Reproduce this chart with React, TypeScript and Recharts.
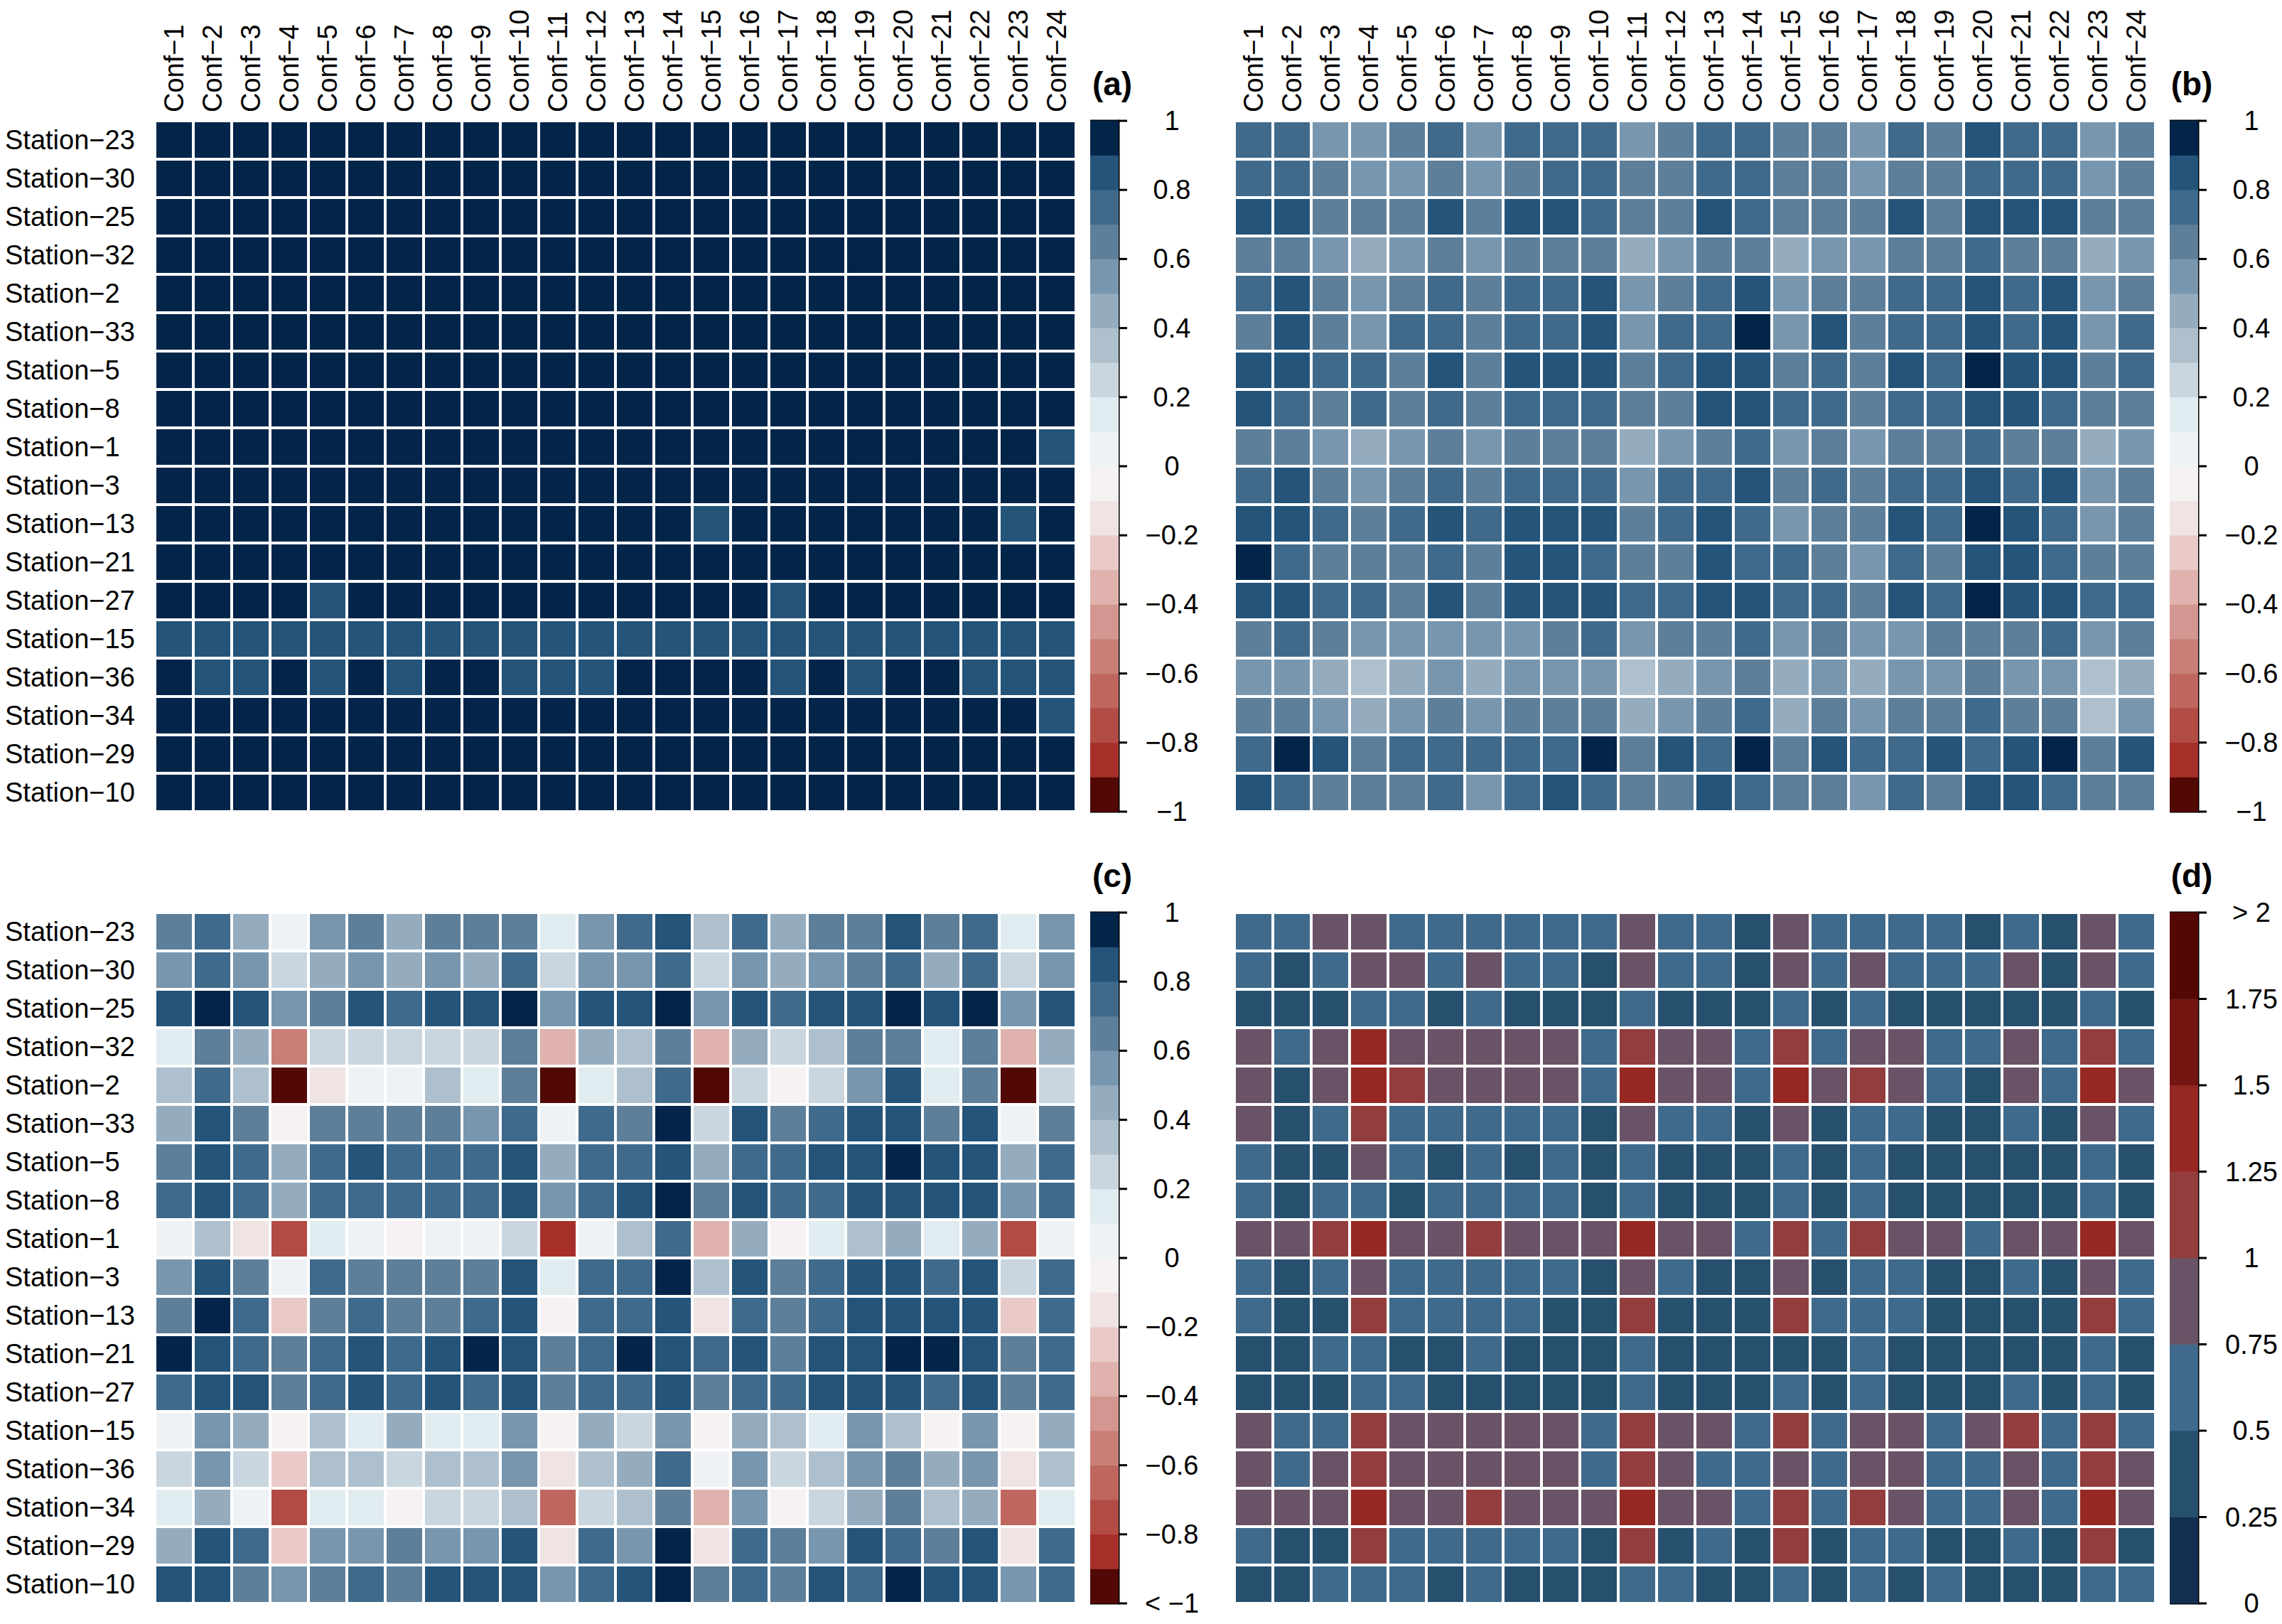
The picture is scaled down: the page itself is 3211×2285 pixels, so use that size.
import React from "react";
import { ScatterChart, Scatter, XAxis, YAxis, ReferenceArea } from "recharts";

const stations = [
  "Station−23", "Station−30", "Station−25", "Station−32", "Station−2", "Station−33",
  "Station−5", "Station−8", "Station−1", "Station−3", "Station−13", "Station−21",
  "Station−27", "Station−15", "Station−36", "Station−34", "Station−29", "Station−10",
];
const confs = [
  "Conf−1", "Conf−2", "Conf−3", "Conf−4", "Conf−5", "Conf−6", "Conf−7", "Conf−8",
  "Conf−9", "Conf−10", "Conf−11", "Conf−12", "Conf−13", "Conf−14", "Conf−15", "Conf−16",
  "Conf−17", "Conf−18", "Conf−19", "Conf−20", "Conf−21", "Conf−22", "Conf−23", "Conf−24",
];

// (a) correlation
const corrA = [
  [0.95, 0.95, 0.95, 0.95, 0.95, 0.95, 0.95, 0.95, 0.95, 0.95, 0.95, 0.95, 0.95, 0.95, 0.95, 0.95, 0.95, 0.95, 0.95, 0.95, 0.95, 0.95, 0.95, 0.95],
  [0.95, 0.95, 0.95, 0.95, 0.95, 0.95, 0.95, 0.95, 0.95, 0.95, 0.95, 0.95, 0.95, 0.95, 0.95, 0.95, 0.95, 0.95, 0.95, 0.95, 0.95, 0.95, 0.95, 0.95],
  [0.95, 0.95, 0.95, 0.95, 0.95, 0.95, 0.95, 0.95, 0.95, 0.95, 0.95, 0.95, 0.95, 0.95, 0.95, 0.95, 0.95, 0.95, 0.95, 0.95, 0.95, 0.95, 0.95, 0.95],
  [0.95, 0.95, 0.95, 0.95, 0.95, 0.95, 0.95, 0.95, 0.95, 0.95, 0.95, 0.95, 0.95, 0.95, 0.95, 0.95, 0.95, 0.95, 0.95, 0.95, 0.95, 0.95, 0.95, 0.95],
  [0.95, 0.95, 0.95, 0.95, 0.95, 0.95, 0.95, 0.95, 0.95, 0.95, 0.95, 0.95, 0.95, 0.95, 0.95, 0.95, 0.95, 0.95, 0.95, 0.95, 0.95, 0.95, 0.95, 0.95],
  [0.95, 0.95, 0.95, 0.95, 0.95, 0.95, 0.95, 0.95, 0.95, 0.95, 0.95, 0.95, 0.95, 0.95, 0.95, 0.95, 0.95, 0.95, 0.95, 0.95, 0.95, 0.95, 0.95, 0.95],
  [0.95, 0.95, 0.95, 0.95, 0.95, 0.95, 0.95, 0.95, 0.95, 0.95, 0.95, 0.95, 0.95, 0.95, 0.95, 0.95, 0.95, 0.95, 0.95, 0.95, 0.95, 0.95, 0.95, 0.95],
  [0.95, 0.95, 0.95, 0.95, 0.95, 0.95, 0.95, 0.95, 0.95, 0.95, 0.95, 0.95, 0.95, 0.95, 0.95, 0.95, 0.95, 0.95, 0.95, 0.95, 0.95, 0.95, 0.95, 0.95],
  [0.95, 0.95, 0.95, 0.95, 0.95, 0.95, 0.95, 0.95, 0.95, 0.95, 0.95, 0.95, 0.95, 0.95, 0.95, 0.95, 0.95, 0.95, 0.95, 0.95, 0.95, 0.95, 0.95, 0.85],
  [0.95, 0.95, 0.95, 0.95, 0.95, 0.95, 0.95, 0.95, 0.95, 0.95, 0.95, 0.95, 0.95, 0.95, 0.95, 0.95, 0.95, 0.95, 0.95, 0.95, 0.95, 0.95, 0.95, 0.95],
  [0.95, 0.95, 0.95, 0.95, 0.95, 0.95, 0.95, 0.95, 0.95, 0.95, 0.95, 0.95, 0.95, 0.95, 0.85, 0.95, 0.95, 0.95, 0.95, 0.95, 0.95, 0.95, 0.85, 0.95],
  [0.95, 0.95, 0.95, 0.95, 0.95, 0.95, 0.95, 0.95, 0.95, 0.95, 0.95, 0.95, 0.95, 0.95, 0.95, 0.95, 0.95, 0.95, 0.95, 0.95, 0.95, 0.95, 0.95, 0.95],
  [0.95, 0.95, 0.95, 0.95, 0.85, 0.95, 0.95, 0.95, 0.95, 0.95, 0.95, 0.95, 0.95, 0.95, 0.95, 0.95, 0.85, 0.95, 0.95, 0.95, 0.95, 0.95, 0.95, 0.95],
  [0.85, 0.85, 0.85, 0.85, 0.85, 0.85, 0.85, 0.85, 0.85, 0.85, 0.85, 0.85, 0.85, 0.85, 0.85, 0.85, 0.85, 0.85, 0.85, 0.85, 0.85, 0.85, 0.85, 0.85],
  [0.95, 0.85, 0.85, 0.95, 0.85, 0.95, 0.85, 0.95, 0.95, 0.85, 0.85, 0.85, 0.95, 0.95, 0.95, 0.95, 0.85, 0.95, 0.85, 0.95, 0.95, 0.85, 0.85, 0.85],
  [0.95, 0.95, 0.95, 0.95, 0.95, 0.95, 0.95, 0.95, 0.95, 0.95, 0.95, 0.95, 0.95, 0.95, 0.95, 0.95, 0.95, 0.95, 0.95, 0.95, 0.95, 0.95, 0.95, 0.85],
  [0.95, 0.95, 0.95, 0.95, 0.95, 0.95, 0.95, 0.95, 0.95, 0.95, 0.95, 0.95, 0.95, 0.95, 0.95, 0.95, 0.95, 0.95, 0.95, 0.95, 0.95, 0.95, 0.95, 0.95],
  [0.95, 0.95, 0.95, 0.95, 0.95, 0.95, 0.95, 0.95, 0.95, 0.95, 0.95, 0.95, 0.95, 0.95, 0.95, 0.95, 0.95, 0.95, 0.95, 0.95, 0.95, 0.95, 0.95, 0.95],
];

// (b) correlation
const corrB = [
  [0.75, 0.75, 0.55, 0.55, 0.65, 0.75, 0.55, 0.75, 0.75, 0.75, 0.55, 0.65, 0.75, 0.75, 0.65, 0.65, 0.55, 0.75, 0.65, 0.85, 0.75, 0.75, 0.55, 0.65],
  [0.75, 0.75, 0.65, 0.55, 0.55, 0.65, 0.55, 0.65, 0.75, 0.75, 0.65, 0.65, 0.75, 0.75, 0.65, 0.65, 0.55, 0.65, 0.65, 0.75, 0.75, 0.75, 0.55, 0.65],
  [0.85, 0.85, 0.65, 0.65, 0.65, 0.85, 0.65, 0.85, 0.85, 0.75, 0.65, 0.65, 0.85, 0.75, 0.65, 0.65, 0.65, 0.85, 0.65, 0.85, 0.85, 0.85, 0.65, 0.65],
  [0.65, 0.65, 0.55, 0.45, 0.55, 0.65, 0.55, 0.65, 0.65, 0.65, 0.45, 0.55, 0.65, 0.65, 0.45, 0.55, 0.55, 0.65, 0.65, 0.75, 0.65, 0.65, 0.45, 0.55],
  [0.75, 0.85, 0.65, 0.55, 0.65, 0.75, 0.65, 0.75, 0.75, 0.85, 0.55, 0.65, 0.75, 0.85, 0.55, 0.65, 0.65, 0.75, 0.75, 0.85, 0.75, 0.85, 0.55, 0.65],
  [0.65, 0.85, 0.65, 0.55, 0.75, 0.75, 0.65, 0.75, 0.75, 0.85, 0.55, 0.75, 0.75, 0.95, 0.55, 0.85, 0.65, 0.75, 0.75, 0.85, 0.75, 0.85, 0.55, 0.75],
  [0.85, 0.85, 0.75, 0.75, 0.65, 0.85, 0.65, 0.85, 0.85, 0.85, 0.65, 0.75, 0.85, 0.85, 0.65, 0.75, 0.65, 0.85, 0.75, 0.95, 0.85, 0.85, 0.65, 0.75],
  [0.85, 0.75, 0.65, 0.75, 0.65, 0.75, 0.65, 0.75, 0.75, 0.75, 0.65, 0.65, 0.85, 0.85, 0.75, 0.75, 0.65, 0.75, 0.75, 0.85, 0.85, 0.75, 0.65, 0.65],
  [0.65, 0.65, 0.55, 0.45, 0.55, 0.65, 0.55, 0.65, 0.65, 0.65, 0.45, 0.55, 0.65, 0.75, 0.55, 0.65, 0.55, 0.65, 0.65, 0.75, 0.65, 0.65, 0.45, 0.55],
  [0.75, 0.85, 0.65, 0.55, 0.65, 0.75, 0.65, 0.75, 0.75, 0.75, 0.55, 0.75, 0.75, 0.85, 0.65, 0.75, 0.65, 0.75, 0.75, 0.85, 0.75, 0.85, 0.55, 0.65],
  [0.85, 0.85, 0.75, 0.65, 0.75, 0.85, 0.75, 0.85, 0.85, 0.85, 0.65, 0.75, 0.85, 0.75, 0.55, 0.65, 0.65, 0.85, 0.75, 0.95, 0.85, 0.75, 0.55, 0.65],
  [0.95, 0.75, 0.65, 0.65, 0.65, 0.75, 0.65, 0.85, 0.85, 0.75, 0.65, 0.65, 0.85, 0.75, 0.75, 0.65, 0.55, 0.75, 0.65, 0.85, 0.85, 0.75, 0.65, 0.65],
  [0.85, 0.85, 0.75, 0.75, 0.65, 0.85, 0.65, 0.85, 0.85, 0.85, 0.75, 0.75, 0.85, 0.85, 0.75, 0.75, 0.65, 0.85, 0.75, 0.95, 0.85, 0.85, 0.75, 0.75],
  [0.65, 0.75, 0.65, 0.55, 0.55, 0.55, 0.55, 0.55, 0.65, 0.75, 0.55, 0.65, 0.65, 0.75, 0.55, 0.65, 0.55, 0.55, 0.65, 0.65, 0.65, 0.75, 0.55, 0.65],
  [0.55, 0.55, 0.45, 0.35, 0.45, 0.55, 0.45, 0.55, 0.55, 0.55, 0.35, 0.45, 0.55, 0.65, 0.45, 0.55, 0.45, 0.55, 0.55, 0.65, 0.55, 0.55, 0.35, 0.45],
  [0.65, 0.65, 0.55, 0.45, 0.55, 0.65, 0.55, 0.65, 0.65, 0.65, 0.45, 0.55, 0.65, 0.75, 0.45, 0.65, 0.55, 0.65, 0.65, 0.75, 0.65, 0.65, 0.35, 0.55],
  [0.75, 0.95, 0.85, 0.65, 0.75, 0.75, 0.75, 0.75, 0.75, 0.95, 0.65, 0.85, 0.75, 0.95, 0.65, 0.85, 0.75, 0.75, 0.85, 0.75, 0.85, 0.95, 0.65, 0.85],
  [0.85, 0.75, 0.65, 0.65, 0.65, 0.75, 0.55, 0.75, 0.85, 0.75, 0.65, 0.65, 0.85, 0.75, 0.65, 0.65, 0.55, 0.75, 0.65, 0.85, 0.85, 0.75, 0.65, 0.65],
];

// (c) correlation
const corrC = [
  [0.65, 0.75, 0.45, 0.05, 0.55, 0.65, 0.45, 0.65, 0.65, 0.65, 0.15, 0.55, 0.75, 0.85, 0.35, 0.75, 0.45, 0.65, 0.65, 0.85, 0.65, 0.75, 0.15, 0.55],
  [0.55, 0.75, 0.55, 0.25, 0.45, 0.55, 0.45, 0.55, 0.45, 0.75, 0.25, 0.55, 0.55, 0.75, 0.25, 0.55, 0.45, 0.55, 0.65, 0.75, 0.45, 0.75, 0.25, 0.55],
  [0.85, 0.95, 0.85, 0.55, 0.65, 0.85, 0.75, 0.85, 0.85, 0.95, 0.55, 0.85, 0.85, 0.95, 0.55, 0.85, 0.75, 0.85, 0.85, 0.95, 0.85, 0.95, 0.55, 0.85],
  [0.15, 0.65, 0.45, -0.55, 0.25, 0.25, 0.25, 0.25, 0.25, 0.65, -0.35, 0.45, 0.35, 0.65, -0.35, 0.45, 0.25, 0.35, 0.65, 0.65, 0.15, 0.65, -0.35, 0.45],
  [0.35, 0.75, 0.35, -0.95, -0.15, 0.05, 0.05, 0.35, 0.15, 0.65, -0.95, 0.15, 0.35, 0.75, -0.95, 0.25, -0.05, 0.25, 0.55, 0.85, 0.15, 0.65, -0.95, 0.25],
  [0.45, 0.85, 0.65, -0.05, 0.65, 0.65, 0.65, 0.65, 0.55, 0.75, 0.05, 0.75, 0.65, 0.95, 0.25, 0.85, 0.65, 0.75, 0.85, 0.85, 0.65, 0.85, 0.05, 0.65],
  [0.65, 0.85, 0.75, 0.45, 0.75, 0.85, 0.75, 0.75, 0.75, 0.85, 0.45, 0.75, 0.75, 0.85, 0.45, 0.75, 0.75, 0.85, 0.85, 0.95, 0.85, 0.85, 0.45, 0.75],
  [0.75, 0.85, 0.75, 0.45, 0.75, 0.75, 0.75, 0.75, 0.75, 0.85, 0.55, 0.75, 0.85, 0.95, 0.65, 0.85, 0.75, 0.75, 0.85, 0.85, 0.85, 0.85, 0.55, 0.75],
  [0.05, 0.35, -0.15, -0.75, 0.15, 0.05, -0.05, 0.05, 0.05, 0.25, -0.85, 0.05, 0.35, 0.75, -0.35, 0.45, -0.05, 0.15, 0.35, 0.45, 0.15, 0.45, -0.75, 0.05],
  [0.55, 0.85, 0.65, 0.05, 0.75, 0.65, 0.65, 0.65, 0.65, 0.85, 0.15, 0.75, 0.75, 0.95, 0.35, 0.85, 0.65, 0.75, 0.85, 0.85, 0.75, 0.85, 0.25, 0.75],
  [0.65, 0.95, 0.75, -0.25, 0.65, 0.75, 0.65, 0.65, 0.75, 0.85, -0.05, 0.75, 0.75, 0.85, -0.15, 0.75, 0.65, 0.75, 0.85, 0.85, 0.85, 0.85, -0.25, 0.75],
  [0.95, 0.85, 0.75, 0.65, 0.75, 0.85, 0.75, 0.85, 0.95, 0.85, 0.65, 0.75, 0.95, 0.85, 0.75, 0.85, 0.65, 0.85, 0.85, 0.95, 0.95, 0.85, 0.65, 0.75],
  [0.75, 0.85, 0.85, 0.65, 0.75, 0.85, 0.75, 0.85, 0.75, 0.85, 0.65, 0.75, 0.75, 0.85, 0.65, 0.75, 0.75, 0.85, 0.85, 0.85, 0.75, 0.85, 0.65, 0.75],
  [0.05, 0.55, 0.45, -0.05, 0.35, 0.15, 0.45, 0.15, 0.15, 0.55, -0.05, 0.45, 0.25, 0.55, -0.05, 0.45, 0.35, 0.15, 0.55, 0.35, -0.05, 0.55, -0.05, 0.45],
  [0.25, 0.55, 0.25, -0.25, 0.35, 0.35, 0.25, 0.35, 0.35, 0.55, -0.15, 0.35, 0.45, 0.75, 0.05, 0.55, 0.25, 0.35, 0.55, 0.65, 0.45, 0.55, -0.15, 0.35],
  [0.15, 0.45, 0.05, -0.75, 0.15, 0.15, -0.05, 0.25, 0.25, 0.35, -0.65, 0.25, 0.35, 0.65, -0.35, 0.55, -0.05, 0.25, 0.45, 0.65, 0.35, 0.45, -0.65, 0.15],
  [0.45, 0.85, 0.75, -0.25, 0.55, 0.55, 0.65, 0.55, 0.55, 0.85, -0.15, 0.75, 0.55, 0.95, -0.15, 0.75, 0.65, 0.55, 0.85, 0.75, 0.65, 0.85, -0.15, 0.75],
  [0.85, 0.85, 0.65, 0.55, 0.65, 0.75, 0.65, 0.85, 0.85, 0.85, 0.55, 0.75, 0.85, 0.95, 0.65, 0.75, 0.65, 0.85, 0.75, 0.95, 0.85, 0.85, 0.55, 0.75],
];

// (d) ratio
const ratioD = [
  [0.6, 0.6, 0.9, 0.9, 0.6, 0.6, 0.6, 0.6, 0.6, 0.6, 0.9, 0.6, 0.6, 0.4, 0.9, 0.6, 0.6, 0.6, 0.6, 0.4, 0.6, 0.4, 0.9, 0.6],
  [0.6, 0.4, 0.6, 0.9, 0.9, 0.6, 0.9, 0.6, 0.6, 0.4, 0.9, 0.6, 0.6, 0.4, 0.9, 0.6, 0.9, 0.6, 0.6, 0.6, 0.9, 0.4, 0.9, 0.6],
  [0.4, 0.4, 0.4, 0.6, 0.6, 0.4, 0.6, 0.4, 0.4, 0.4, 0.6, 0.4, 0.4, 0.4, 0.6, 0.4, 0.6, 0.4, 0.4, 0.4, 0.4, 0.4, 0.6, 0.4],
  [0.9, 0.6, 0.9, 1.4, 0.9, 0.9, 0.9, 0.9, 0.9, 0.6, 1.1, 0.9, 0.9, 0.6, 1.1, 0.6, 0.9, 0.9, 0.6, 0.6, 0.9, 0.6, 1.1, 0.6],
  [0.9, 0.4, 0.9, 1.4, 1.1, 0.9, 0.9, 0.9, 0.9, 0.6, 1.4, 0.9, 0.9, 0.6, 1.4, 0.9, 1.1, 0.9, 0.6, 0.4, 0.9, 0.6, 1.4, 0.9],
  [0.9, 0.4, 0.6, 1.1, 0.6, 0.6, 0.6, 0.6, 0.6, 0.4, 0.9, 0.6, 0.6, 0.4, 0.9, 0.4, 0.6, 0.6, 0.4, 0.4, 0.6, 0.4, 0.9, 0.6],
  [0.6, 0.4, 0.4, 0.9, 0.6, 0.4, 0.6, 0.4, 0.6, 0.4, 0.6, 0.4, 0.4, 0.4, 0.6, 0.4, 0.6, 0.4, 0.4, 0.4, 0.4, 0.4, 0.6, 0.4],
  [0.6, 0.4, 0.6, 0.6, 0.4, 0.6, 0.6, 0.6, 0.6, 0.4, 0.6, 0.4, 0.4, 0.4, 0.6, 0.4, 0.6, 0.4, 0.4, 0.4, 0.4, 0.4, 0.6, 0.4],
  [0.9, 0.9, 1.1, 1.4, 0.9, 0.9, 1.1, 0.9, 0.9, 0.9, 1.4, 0.9, 0.9, 0.6, 1.1, 0.6, 1.1, 0.9, 0.9, 0.6, 0.9, 0.9, 1.4, 0.9],
  [0.6, 0.4, 0.6, 0.9, 0.6, 0.6, 0.6, 0.6, 0.6, 0.4, 0.9, 0.6, 0.4, 0.4, 0.9, 0.4, 0.6, 0.6, 0.4, 0.4, 0.6, 0.4, 0.9, 0.6],
  [0.6, 0.4, 0.4, 1.1, 0.6, 0.6, 0.6, 0.6, 0.4, 0.4, 1.1, 0.4, 0.4, 0.4, 1.1, 0.6, 0.6, 0.6, 0.4, 0.4, 0.4, 0.4, 1.1, 0.6],
  [0.4, 0.4, 0.6, 0.6, 0.4, 0.4, 0.6, 0.4, 0.4, 0.4, 0.6, 0.4, 0.4, 0.4, 0.4, 0.4, 0.6, 0.4, 0.4, 0.4, 0.4, 0.4, 0.6, 0.4],
  [0.4, 0.4, 0.4, 0.6, 0.6, 0.4, 0.4, 0.4, 0.4, 0.4, 0.6, 0.4, 0.4, 0.4, 0.6, 0.4, 0.6, 0.4, 0.4, 0.4, 0.6, 0.4, 0.6, 0.4],
  [0.9, 0.6, 0.6, 1.1, 0.9, 0.9, 0.9, 0.9, 0.9, 0.6, 1.1, 0.9, 0.9, 0.6, 1.1, 0.6, 0.9, 0.9, 0.6, 0.9, 1.1, 0.6, 1.1, 0.6],
  [0.9, 0.6, 0.9, 1.1, 0.9, 0.9, 0.9, 0.9, 0.9, 0.6, 1.1, 0.9, 0.6, 0.6, 0.9, 0.6, 0.9, 0.9, 0.6, 0.6, 0.9, 0.6, 1.1, 0.9],
  [0.9, 0.9, 0.9, 1.4, 0.9, 0.9, 1.1, 0.9, 0.9, 0.9, 1.4, 0.9, 0.9, 0.6, 1.1, 0.6, 1.1, 0.9, 0.6, 0.6, 0.9, 0.6, 1.4, 0.9],
  [0.6, 0.4, 0.4, 1.1, 0.6, 0.6, 0.6, 0.6, 0.6, 0.4, 1.1, 0.4, 0.6, 0.4, 1.1, 0.4, 0.6, 0.6, 0.4, 0.4, 0.6, 0.4, 1.1, 0.4],
  [0.4, 0.4, 0.6, 0.6, 0.6, 0.4, 0.6, 0.4, 0.4, 0.4, 0.6, 0.6, 0.4, 0.4, 0.6, 0.4, 0.6, 0.4, 0.6, 0.4, 0.4, 0.4, 0.6, 0.6],
];

// colour scales
const corrBreaks = [-1, -0.9, -0.8, -0.7, -0.6, -0.5, -0.4, -0.3, -0.2, -0.1, 0, 0.1, 0.2, 0.3, 0.4, 0.5, 0.6, 0.7, 0.8, 0.9, 1];
const corrPalette = [
  "#520804", "#a72f29", "#b24b43", "#bf675f", "#c97f78", "#d49690", "#e0b2ad", "#e9cac8", "#f0e3e3", "#f6f2f1",
  "#eef2f5", "#e0ecf0", "#c9d6df", "#aec0cd", "#95acbf", "#7896ae", "#5d7f9a", "#3f6a8b", "#245479", "#03254a",
];
const corrTicks = [-1, -0.8, -0.6, -0.4, -0.2, 0, 0.2, 0.4, 0.6, 0.8, 1];
const corrTickLabels = ["−1", "−0.8", "−0.6", "−0.4", "−0.2", "0", "0.2", "0.4", "0.6", "0.8", "1"];
const corrTickLabelsC = ["< −1", "−0.8", "−0.6", "−0.4", "−0.2", "0", "0.2", "0.4", "0.6", "0.8", "1"];

const ratioBreaks = [0, 0.25, 0.5, 0.75, 1, 1.25, 1.5, 1.75, 2];
const ratioPalette = ["#122f52", "#27506f", "#3f6a8b", "#6a5366", "#933d3e", "#962822", "#731510", "#540805"];
const ratioTicks = [0, 0.25, 0.5, 0.75, 1, 1.25, 1.5, 1.75, 2];
const ratioTickLabels = ["0", "0.25", "0.5", "0.75", "1", "1.25", "1.5", "1.75", "> 2"];

const FONT = "'Liberation Sans', Arial, Helvetica, sans-serif";
const FS = 38;
const CELL = 54;
const GAP = 4;
const GRID_W = CELL * confs.length;
const GRID_H = CELL * stations.length;
const X_AXIS_H = 170;
const Y_AXIS_W = 218;
const BAR_W = 40;
const BAR_GAP = 20;

const confTicks = confs.map((_, i) => i + 1);
const rowTicks = stations.map((_, i) => i + 1);

const colorFor = (v: number, breaks: number[], palette: string[]) => {
  let i = 0;
  while (i < palette.length - 1 && v >= breaks[i + 1]) i++;
  return palette[i];
};

const toCells = (m: number[][]) =>
  m.flatMap((row, r) => row.map((v, c) => ({ x: c + 1, y: r + 1, v })));

const ConfTick = (props: any) => {
  const { x, payload } = props;
  return (
    <text
      transform={`translate(${x},${X_AXIS_H - 12}) rotate(-90)`}
      textAnchor="start"
      dominantBaseline="central"
      fontSize={FS}
      fontFamily={FONT}
      fill="#000"
    >
      {confs[payload.value - 1]}
    </text>
  );
};

const StationTick = (props: any) => {
  const { y, payload } = props;
  return (
    <text x={7} y={y} textAnchor="start" dominantBaseline="central" fontSize={FS} fontFamily={FONT} fill="#000">
      {stations[payload.value - 1]}
    </text>
  );
};

function Heatmap({ left, top, matrix, breaks, palette, rowLabels, colLabels }: {
  left: number; top: number; matrix: number[][]; breaks: number[]; palette: string[];
  rowLabels: boolean; colLabels: boolean;
}) {
  const yw = rowLabels ? Y_AXIS_W : 0;
  return (
    <div style={{ position: "absolute", left: left - yw, top: top - X_AXIS_H }}>
      <ScatterChart
        width={yw + GRID_W + 4}
        height={X_AXIS_H + GRID_H + 4}
        margin={{ top: 0, right: 4, bottom: 4, left: 0 }}
      >
        <XAxis
          type="number"
          dataKey="x"
          orientation="top"
          domain={[0.5, confs.length + 0.5]}
          ticks={confTicks}
          interval={0}
          height={X_AXIS_H}
          axisLine={false}
          tickLine={false}
          tick={colLabels ? ConfTick : false}
        />
        <YAxis
          type="number"
          dataKey="y"
          domain={[0.5, stations.length + 0.5]}
          reversed
          ticks={rowTicks}
          interval={0}
          width={yw}
          hide={!rowLabels}
          axisLine={false}
          tickLine={false}
          tick={StationTick}
        />
        <Scatter
          data={toCells(matrix)}
          isAnimationActive={false}
          shape={(p: any) => (
            <rect
              x={p.cx - CELL / 2 + GAP / 2}
              y={p.cy - CELL / 2 + GAP / 2}
              width={CELL - GAP}
              height={CELL - GAP}
              fill={colorFor(p.payload.v, breaks, palette)}
            />
          )}
        />
      </ScatterChart>
    </div>
  );
}

function ColorBar({ left, top, breaks, palette, ticks, labels, title }: {
  left: number; top: number; breaks: number[]; palette: string[]; ticks: number[]; labels: string[]; title: string;
}) {
  const pad = 30;
  const axisW = 170;
  const n = palette.length;
  const binH = GRID_H / n;
  const bins = palette.map((c, i) => ({ x: 0.5, y: (breaks[i] + breaks[i + 1]) / 2, c }));
  return (
    <>
      <div style={{ position: "absolute", left, top: top - pad }}>
        <ScatterChart
          width={BAR_W + axisW}
          height={GRID_H + 2 * pad}
          margin={{ top: pad, right: 0, bottom: pad, left: 0 }}
        >
          <XAxis type="number" dataKey="x" domain={[0, 1]} hide />
          <YAxis
            type="number"
            dataKey="y"
            orientation="right"
            domain={[breaks[0], breaks[n]]}
            ticks={ticks}
            interval={0}
            width={axisW}
            axisLine={false}
            tickSize={12}
            tickLine={{ stroke: "#000", strokeWidth: 3 }}
            tick={(p: any) => (
              <text
                x={BAR_W + 75}
                y={p.y}
                textAnchor="middle"
                dominantBaseline="central"
                fontSize={FS}
                fontFamily={FONT}
                fill="#000"
              >
                {labels[ticks.indexOf(p.payload.value)]}
              </text>
            )}
          />
          <Scatter
            data={bins}
            isAnimationActive={false}
            shape={(p: any) => (
              <rect x={p.cx - BAR_W / 2} y={p.cy - binH / 2 - 0.3} width={BAR_W} height={binH + 0.6} fill={p.payload.c} />
            )}
          />
          <ReferenceArea
            x1={0}
            x2={1}
            y1={breaks[0]}
            y2={breaks[n]}
            fill="none"
            fillOpacity={0}
            stroke="#000"
            strokeWidth={3}
            ifOverflow="visible"
          />
        </ScatterChart>
      </div>
      <div
        style={{
          position: "absolute",
          left: left + BAR_W / 2 + 11,
          top: top - 52,
          transform: "translate(-50%, -50%)",
          fontFamily: FONT,
          fontWeight: "bold",
          fontSize: 46,
          lineHeight: 1,
          whiteSpace: "nowrap",
        }}
      >
        {title}
      </div>
    </>
  );
}

export default function App() {
  const lefts = [218, 1737];
  const tops = [170, 1284];
  const barLeft = (l: number) => l + GRID_W + BAR_GAP;
  return (
    <div
      style={{
        position: "absolute",
        left: 0,
        top: 0,
        width: 3211,
        height: 2285,
        overflow: "hidden",
        background: "#fff",
        fontFamily: FONT,
      }}
    >
      <Heatmap left={lefts[0]} top={tops[0]} matrix={corrA} breaks={corrBreaks} palette={corrPalette} rowLabels colLabels />
      <ColorBar left={barLeft(lefts[0])} top={tops[0]} breaks={corrBreaks} palette={corrPalette} ticks={corrTicks} labels={corrTickLabels} title="(a)" />

      <Heatmap left={lefts[1]} top={tops[0]} matrix={corrB} breaks={corrBreaks} palette={corrPalette} rowLabels={false} colLabels />
      <ColorBar left={barLeft(lefts[1])} top={tops[0]} breaks={corrBreaks} palette={corrPalette} ticks={corrTicks} labels={corrTickLabels} title="(b)" />

      <Heatmap left={lefts[0]} top={tops[1]} matrix={corrC} breaks={corrBreaks} palette={corrPalette} rowLabels colLabels={false} />
      <ColorBar left={barLeft(lefts[0])} top={tops[1]} breaks={corrBreaks} palette={corrPalette} ticks={corrTicks} labels={corrTickLabelsC} title="(c)" />

      <Heatmap left={lefts[1]} top={tops[1]} matrix={ratioD} breaks={ratioBreaks} palette={ratioPalette} rowLabels={false} colLabels={false} />
      <ColorBar left={barLeft(lefts[1])} top={tops[1]} breaks={ratioBreaks} palette={ratioPalette} ticks={ratioTicks} labels={ratioTickLabels} title="(d)" />
    </div>
  );
}
